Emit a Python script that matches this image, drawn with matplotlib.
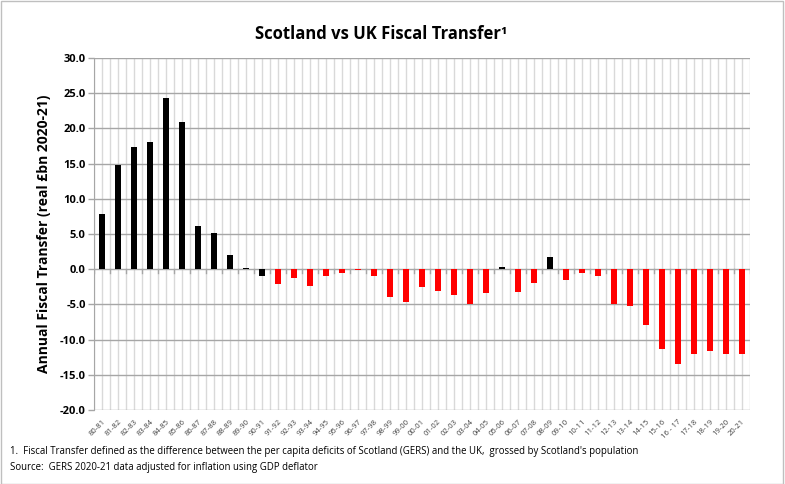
import matplotlib
matplotlib.use("Agg")
import matplotlib.pyplot as plt
import numpy as np

plt.rcParams['font.family'] = ['Open Sans', 'DejaVu Sans']

# financial years and fiscal transfer values (real £bn 2020-21)
years = ["80-81", "81-82", "82-83", "83-84", "84-85", "85-86", "86-87", "87-88", "88-89", "89-90",
         "90-91", "91-92", "92-93", "93-94", "94-95", "95-96", "96-97", "97-98", "98-99", "99-00",
         "00-01", "01-02", "02-03", "03-04", "04-05", "05-06", "06-07", "07-08", "08-09", "09-10",
         "10-11", "11-12", "12-13", "13-14", "14-15", "15-16", "16 - 17", "17-18", "18-19", "19-20",
         "20-21"]
transfer = [7.8, 14.8, 17.4, 18.1, 24.3, 20.9, 6.2, 5.1, 2.0, 0.2,
            -1.0, -2.1, -1.3, -2.4, -1.0, -0.5, -0.1, -1.0, -3.9, -4.6,
            -2.5, -3.1, -3.7, -5.0, -3.4, 0.3, -3.2, -1.9, 1.7, -1.6,
            -0.5, -1.0, -4.9, -5.2, -7.9, -11.3, -13.4, -12.0, -11.6, -12.0,
            -12.1]

x = np.arange(len(years))
# black for positive transfers (and 90-91), red otherwise
colors = ['black' if (v > 0 or y == "90-91") else 'red' for v, y in zip(transfer, years)]

fig = plt.figure(figsize=(7.85, 4.84), dpi=100)
ax = fig.add_axes([0.1197, 0.1529, 0.8353, 0.7271])

# light vertical gridlines at every half category
for xv in np.arange(-0.5, len(years), 0.5):
    ax.axvline(xv, color='#d9d9d9', lw=1.0, zorder=0)
for yv in range(-20, 31, 5):
    ax.axhline(yv, color='#a6a6a6', lw=1.0, zorder=1)

ax.bar(x, transfer, width=0.38, color=colors, zorder=3)

ax.set_xlim(-0.5, len(years) - 0.5)
ax.set_ylim(-20, 30)
ax.set_yticks(range(-20, 31, 5))
ax.set_yticklabels(["%.1f" % v for v in range(-20, 31, 5)], fontsize=8, fontweight='bold')
ax.tick_params(axis='y', length=4, color='#a6a6a6', width=1, pad=2)

ax.set_xticks(x)
ax.set_xticklabels(years, rotation=45, ha='right', rotation_mode='anchor', fontsize=5.5, color='#404040')
ax.tick_params(axis='x', length=0, pad=6)
# category ticks on the zero line
for xv in np.arange(-0.5, len(years), 1):
    ax.plot([xv, xv], [0, -0.5], color='#a6a6a6', lw=1, zorder=2)

for s in ['top', 'right', 'bottom']:
    ax.spines[s].set_visible(False)
ax.spines['left'].set_color('#a6a6a6')

ax.set_ylabel("Annual Fiscal Transfer (real £bn 2020-21)", fontsize=10, fontweight='bold', labelpad=6)

fig.text(0.485, 0.93, "Scotland vs UK Fiscal Transfer\u00b9", ha='center', va='center',
         fontsize=12, fontweight='bold')
fig.text(0.013, 0.068, "1.  Fiscal Transfer defined as the difference between the per capita deficits of Scotland (GERS) and the UK,  grossed by Scotland's population",
         fontsize=6.9, va='center')
fig.text(0.013, 0.035, "Source:  GERS 2020-21 data adjusted for inflation using GDP deflator",
         fontsize=6.9, va='center')

fig.patches.append(plt.Rectangle((0.001, 0.001), 0.997, 0.997, transform=fig.transFigure,
                                 fill=False, edgecolor='#bfbfbf', lw=1))

fig.savefig("out.png", dpi=100)
